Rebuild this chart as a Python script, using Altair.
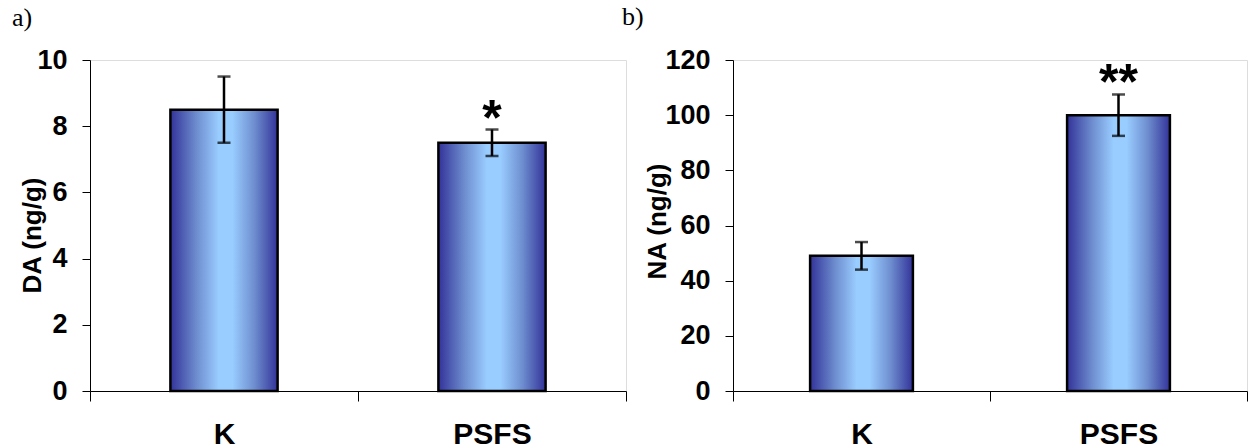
import altair as alt
import pandas as pd

groups = ["K", "PSFS"]
da_mean = [8.5, 7.5]
da_err = [1.0, 0.4]
da_sig = ["", "*"]
na_mean = [49, 100]
na_err = [5, 7.5]
na_sig = ["", "**"]

FONT = "Liberation Sans"

grad = alt.Gradient(
    gradient="linear", x1=0, x2=1, y1=0, y2=0,
    stops=[
        alt.GradientStop(color="#333399", offset=0),
        alt.GradientStop(color="#6F8FD0", offset=0.25),
        alt.GradientStop(color="#99CCFF", offset=0.45),
        alt.GradientStop(color="#99CCFF", offset=0.58),
        alt.GradientStop(color="#6F8FD0", offset=0.78),
        alt.GradientStop(color="#333399", offset=1),
    ],
)


def panel(mean, err, sig, ymax, yvals, ytitle, tx, ty, label, ldx, ldy, width):
    df = pd.DataFrame({"group": groups, "mean": mean, "err": err, "sig": sig})
    df["lo"] = df["mean"] - df["err"]
    df["hi"] = df["mean"] + df["err"]

    yaxis = alt.Axis(values=yvals, grid=False, tickSize=8, tickColor="black",
                     domainColor="black", labelFont=FONT, labelFontSize=27,
                     labelFontWeight="bold", labelColor="black", labelPadding=15,
                     title=ytitle, titleFont=FONT, titleFontSize=26,
                     titleFontWeight="bold", titleColor="black",
                     titleX=tx, titleY=ty)
    yscale = alt.Scale(domain=[0, ymax], nice=False)

    def Y(f):
        return alt.Y(f + ":Q", scale=yscale, axis=yaxis, title=ytitle)

    x = alt.X("group:N", sort=groups, title=None,
              scale=alt.Scale(paddingInner=0, paddingOuter=0),
              axis=alt.Axis(labelAngle=0, tickBand="extent", tickSize=10,
                            tickColor="black", domainColor="black",
                            labelFont=FONT, labelFontSize=30,
                            labelFontWeight="bold", labelColor="black",
                            labelPadding=18))

    base = alt.Chart(df)
    bars = base.mark_bar(width=alt.RelativeBandSize(0.4), color=grad,
                         stroke="black", strokeWidth=2.5).encode(x=x, y=Y("mean"))
    rule = base.mark_rule(color="black", strokeWidth=2.5).encode(
        x=x, y=Y("lo"), y2="hi:Q")
    cap_lo = base.mark_tick(orient="horizontal", size=13, thickness=2.5,
                            color="black").encode(x=x, y=Y("lo"))
    cap_hi = base.mark_tick(orient="horizontal", size=13, thickness=2.5,
                            color="black").encode(x=x, y=Y("hi"))
    txt = base.mark_text(font=FONT, fontSize=50, fontWeight="bold",
                         baseline="middle", dy=-10, color="black").encode(
        x=x, y=Y("hi"), text="sig:N")

    return alt.layer(bars, rule, cap_lo, cap_hi, txt).properties(
        width=width, height=331,
        title=alt.TitleParams(text=label, anchor="start", font="Liberation Serif",
                              fontSize=26, fontWeight="normal", color="black",
                              dx=ldx, dy=ldy, offset=11, frame="group"),
    )


a = panel(da_mean, da_err, da_sig, 10, [0, 2, 4, 6, 8, 10], "DA (ng/g)",
          -45, 175, "a)", -78, 0, 536)
b = panel(na_mean, na_err, na_sig, 120, [0, 20, 40, 60, 80, 100, 120], "NA (ng/g)",
          -63, 161, "b)", -111, -5, 514)

chart = alt.hconcat(a, b, spacing=107, bounds="flush").properties(
    padding={"left": 11, "top": 3, "right": 0, "bottom": 0}
).configure_view(strokeWidth=0).configure(background="white")

chart.save("out.html", embed_options={"renderer": "svg", "actions": False})
